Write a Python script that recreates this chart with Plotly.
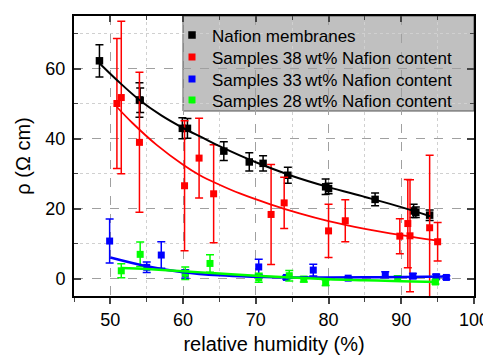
import plotly.graph_objects as go

# ---------------- data ----------------
naf_x = [48.5, 54.0, 54.1, 59.9, 60.6, 65.6, 69.1, 71.0, 74.4, 79.6, 80.0, 86.4, 91.7, 92.0, 93.9]
naf_y = [62.2, 51.0, 50.9, 42.9, 42.9, 36.4, 33.3, 32.9, 29.5, 26.2, 25.7, 22.6, 19.3, 18.9, 18.1]
naf_e = [4.6, 4.9, 3.5, 3.0, 2.8, 2.7, 2.6, 2.2, 2.3, 2.2, 1.5, 1.8, 1.9, 1.5, 1.5]

s38_x = [50.9, 51.5, 54.0, 60.2, 62.2, 64.2, 72.1, 73.9, 80.0, 82.3, 89.8, 90.9, 91.2, 93.9, 95.0]
s38_y = [50.0, 51.7, 38.9, 26.5, 34.4, 24.2, 18.3, 21.6, 13.6, 16.5, 12.1, 15.7, 12.2, 14.5, 10.5]
s38_e = [18.6, 21.8, 20.0, 18.6, 11.4, 14.0, 14.3, 7.3, 7.6, 6.0, 5.0, 12.6, 16.0, 20.7, 5.5]

s33_x = [49.9, 55.0, 57.0, 60.3, 70.4, 74.2, 77.9, 82.7, 87.8, 91.6, 94.8, 96.2]
s33_y = [10.7, 3.2, 6.7, 1.3, 3.3, 0.3, 2.4, 0.1, 1.1, 0.7, 0.5, 0.3]
s33_e = [6.3, 1.5, 3.8, 1.2, 2.2, 0.5, 1.7, 0.3, 0.8, 0.7, 0.7, 0.5]

s28_x = [51.5, 54.1, 60.3, 63.7, 70.4, 74.6, 76.6, 79.6, 89.5, 94.7]
s28_y = [2.2, 6.9, 1.5, 4.3, 0.2, 0.8, -0.2, -1.2, 0.0, -1.0]
s28_e = [2.0, 3.5, 1.8, 2.5, 1.3, 1.5, 0.8, 0.8, 0.7, 0.6]

# fitted curves
naf_fit_x = [48.5, 51, 54, 57, 60, 62.6, 65, 70, 75, 80, 85, 90, 94]
naf_fit_y = [61.5, 56.5, 51.0, 46.6, 43.0, 40.3, 37.8, 33.2, 29.3, 26.1, 23.3, 20.4, 17.8]
s38_fit_x = [50.9, 53, 56.4, 60, 62.3, 65, 67.8, 72, 76, 80, 85, 90, 95]
s38_fit_y = [49.0, 44.5, 38.1, 32.5, 29.5, 26.8, 24.3, 21.2, 18.6, 16.4, 14.2, 12.4, 10.8]
s33_fit_x = [50, 55, 60, 65, 70, 75, 80, 85, 90, 96.3]
s33_fit_y = [6.0, 3.5, 1.8, 0.9, 0.5, 0.3, 0.3, 0.35, 0.45, 0.6]
s28_fit_x = [51.5, 55, 60, 65, 70, 75, 80, 85, 90, 95]
s28_fit_y = [3.0, 2.7, 2.1, 1.4, 0.8, 0.3, -0.2, -0.5, -0.8, -1.0]

names = ["Nafion membranes",
         "Samples 38\u2009wt% Nafion content",
         "Samples 33\u2009wt% Nafion content",
         "Samples 28\u2009wt% Nafion content"]
colors = ["#000000", "#ff0000", "#0000ff", "#00ff00"]

series = [(naf_x, naf_y, naf_e), (s38_x, s38_y, s38_e), (s33_x, s33_y, s33_e), (s28_x, s28_y, s28_e)]
fits = [(naf_fit_x, naf_fit_y, 2), (s38_fit_x, s38_fit_y, 1.8), (s33_fit_x, s33_fit_y, 2.5), (s28_fit_x, s28_fit_y, 2.5)]
marker_sizes = [7.5, 7, 7, 7]

FONT = "Liberation Sans, Arial, sans-serif"

# page body has an 8px margin: figure is sized/placed to compensate
W, H = 483, 347
ML, MT, MR, MB = 66, 8, 17, 59
PW, PH = W - ML - MR, H - MT - MB  # 400 x 280

legend_ids = ["legend", "legend2", "legend3", "legend4"]
row_centers = [33.5, 55.5, 77.5, 98.5]  # screen px of legend rows

fig = go.Figure()
for (x, y, e), name, c, lid, ms in zip(series, names, colors, legend_ids, marker_sizes):
    fig.add_trace(go.Scatter(
        x=x, y=y, mode="markers", name=name, legend=lid,
        marker=dict(symbol="square", size=ms, color=c),
        error_y=dict(type="data", array=e, visible=True, color=c, thickness=1.5, width=4),
    ))
for (fx, fy, w), c in zip(fits, colors):
    fig.add_trace(go.Scatter(x=fx, y=fy, mode="lines", showlegend=False,
                             line=dict(color=c, width=w, shape="spline", smoothing=1.0),
                             hoverinfo="skip"))

# dummy trace so the top axis (inward ticks) is drawn
fig.add_trace(go.Scatter(x=[50], y=[0], xaxis="x2", mode="markers",
                         marker=dict(opacity=0), showlegend=False, hoverinfo="skip"))

# legend background box (screen px 183..474 x 16..111)
fig.add_shape(type="rect", xref="paper", yref="paper",
              x0=(183 - 8 - ML) / PW, x1=1.0, y0=(PH - (111 - 8 - MT)) / PH, y1=1.0,
              fillcolor="#c0c0c0", line=dict(color="#555555", width=1), layer="below")

grid_major = dict(showgrid=True, gridcolor="#a0a0a0", griddash="dash", gridwidth=1)

legends = {}
for lid, rc in zip(legend_ids, row_centers):
    top_fig = rc - 8 - 16
    legends[lid] = dict(x=(164 - ML) / PW, y=1 - (top_fig - MT) / PH, xanchor="left", yanchor="top",
                        bgcolor="rgba(0,0,0,0)", borderwidth=0, font=dict(size=17),
                        itemwidth=30)

fig.update_layout(
    width=W, height=H,
    margin=dict(l=ML, r=MR, t=MT, b=MB, pad=0, autoexpand=False),
    paper_bgcolor="white", plot_bgcolor="white",
    font=dict(family=FONT, size=18, color="black"),
    showlegend=True,
    **legends,
    xaxis=dict(range=[45, 100], tick0=50, dtick=10, ticks="outside", ticklen=6, tickwidth=1.5,
               showline=True, linewidth=2, linecolor="black", mirror=True, zeroline=False,
               automargin=False,
               **grid_major,
               minor=dict(dtick=5, tick0=45, ticks="outside", ticklen=4, tickwidth=1.2,
                          showgrid=True, gridcolor="#d0d0d0", griddash="dot", gridwidth=1),
               title=dict(text="relative humidity (%)", font=dict(size=20), standoff=11)),
    xaxis2=dict(range=[45, 100], overlaying="x", side="top", anchor="y", automargin=False,
                tick0=50, dtick=10, ticks="inside", ticklen=6, tickwidth=1.5,
                showticklabels=False, showgrid=False, zeroline=False, showline=False,
                minor=dict(dtick=5, tick0=45, ticks="inside", ticklen=4, tickwidth=1.2)),
    yaxis=dict(range=[-5, 75], tick0=0, dtick=20, ticks="inside", ticklen=7, tickwidth=1.5,
               showline=True, linewidth=2, linecolor="black", mirror="ticks", zeroline=False,
               ticklabelstandoff=3, automargin=False,
               **grid_major,
               minor=dict(dtick=10, tick0=0, ticks="inside", ticklen=4, tickwidth=1.2,
                          showgrid=True, gridcolor="#d0d0d0", griddash="dot", gridwidth=1),
               title=dict(text="\u03c1 (\u03a9 cm)", font=dict(size=20), standoff=9)),
)

fig.write_html("out.html")
